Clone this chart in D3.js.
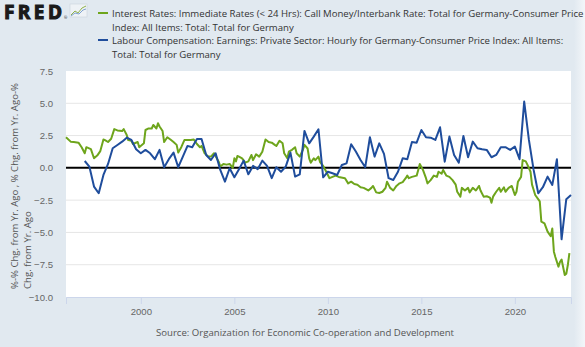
<!DOCTYPE html>
<html>
<head>
<meta charset="utf-8">
<script src="https://cdn.jsdelivr.net/npm/d3@7"></script>
<style>
  body { margin: 0; background: #e1e9f0; }
  svg { display: block; font-family: "Open Sans", sans-serif; }
</style>
</head>
<body>
<div id="chart"></div>
<script>
// series names for the legend
var legendLines = [
    ['Interest Rates: Immediate Rates (< 24 Hrs): Call Money/Interbank Rate: Total for Germany-Consumer Price',
     'Index: All Items: Total: Total for Germany'],
    ['Labour Compensation: Earnings: Private Sector: Hourly for Germany-Consumer Price Index: All Items:',
     'Total: Total for Germany']
];
var seriesColors = ['#6ea51c', '#1f4d9c'];

var yTicks = [-10, -7.5, -5, -2.5, 0, 2.5, 5, 7.5];
var xTickYears = [2000, 2005, 2010, 2015, 2020];

// monthly series
var greenMonths = ['1996-01','1996-04','1996-06','1996-09','1996-11','1997-01','1997-02','1997-05','1997-07','1997-09','1997-11',
    '1998-01','1998-02','1998-04','1998-06','1998-08','1998-10','1999-01','1999-02','1999-04','1999-05','1999-07','1999-08','1999-11','1999-12',
    '2000-03','2000-04','2000-06','2000-08','2000-09','2000-11','2000-12','2001-01','2001-03','2001-04','2001-06','2001-08','2001-10','2001-12',
    '2002-01','2002-03','2002-05','2002-07','2002-09','2002-11','2003-01','2003-03','2003-04','2003-06','2003-08','2003-10','2003-12',
    '2004-03','2004-04','2004-06','2004-08','2004-10','2004-12','2005-01','2005-02','2005-03','2005-04','2005-06','2005-08','2005-10','2005-12',
    '2006-01','2006-03','2006-05','2006-07','2006-09','2006-11','2007-01','2007-03','2007-04','2007-06','2007-08','2007-09','2007-11','2007-12',
    '2008-02','2008-04','2008-05','2008-07','2008-09','2008-10','2008-12','2009-01','2009-02','2009-04','2009-05','2009-07','2009-08','2009-10','2009-12',
    '2010-02','2010-04','2010-06','2010-08','2010-12','2011-02','2011-04','2011-06','2011-08','2011-10','2011-12',
    '2012-03','2012-05','2012-06','2012-08','2012-10','2012-12','2013-02','2013-03','2013-05','2013-07','2013-09','2013-11',
    '2014-01','2014-03','2014-04','2014-05','2014-07','2014-10','2014-11','2014-12','2015-02','2015-04','2015-05','2015-07','2015-09','2015-11','2015-12',
    '2016-02','2016-03','2016-05','2016-07','2016-09','2016-11','2016-12','2017-02','2017-03','2017-05','2017-07','2017-08','2017-10','2017-12',
    '2018-02','2018-03','2018-05','2018-07','2018-09','2018-10','2018-11','2019-01','2019-03','2019-04','2019-06','2019-07','2019-09','2019-11',
    '2020-01','2020-02','2020-03','2020-05','2020-06','2020-08','2020-09','2020-11','2020-12','2021-01','2021-02','2021-05','2021-06','2021-08','2021-10','2021-12',
    '2022-01','2022-02','2022-03','2022-05','2022-06','2022-07','2022-09','2022-10','2022-11','2022-12'];
var greenValues = [2.37,2.03,2.0,1.95,1.6,1.13,1.6,1.45,0.74,0.95,1.3,
    2.2,2.15,2.0,2.25,3.0,2.9,2.85,3.0,2.55,2.15,2.1,1.85,2.0,1.6,
    1.9,2.93,3.05,3.05,3.32,3.05,3.45,3.2,2.85,2.0,2.37,2.2,2.0,1.78,
    1.18,1.6,2.15,2.15,2.15,2.2,1.85,1.6,1.7,1.13,0.9,0.87,1.13,
    0.48,0.1,0.3,0.25,0.3,0.0,0.74,0.5,0.92,0.87,0.74,0.4,0.5,1.0,
    0.6,1.05,0.87,1.25,2.2,2.0,1.95,1.78,1.7,2.1,1.9,1.13,0.74,1.25,
    1.4,1.6,1.13,0.87,1.4,1.78,1.5,0.74,0.4,0.74,0.6,0.87,0.45,0.15,-0.3,
    -0.8,-0.7,-0.6,-0.7,-0.8,-1.2,-1.07,-1.25,-1.3,-1.5,-1.55,
    -1.75,-1.55,-1.4,-1.9,-1.95,-1.85,-1.55,-1.07,-1.55,-1.75,-1.4,-1.2,
    -1.1,-0.8,-0.6,-0.8,-0.7,-0.6,-0.16,0.3,-0.16,-0.8,-1.2,-0.95,-0.6,-0.7,-0.3,
    -0.45,-0.16,-0.6,-0.7,-0.95,-1.3,-1.85,-2.23,-1.55,-1.75,-1.55,-1.9,-1.55,-1.75,
    -1.4,-1.75,-2.23,-2.2,-2.3,-2.7,-2.23,-1.85,-1.55,-1.85,-1.5,-1.85,-1.55,-1.4,
    -2.1,-1.85,-1.07,-0.7,0.6,0.5,0.25,-0.3,-1.3,-1.7,-2.1,-2.6,-4.17,-4.3,-4.94,-5.3,
    -4.7,-6.49,-6.9,-7.65,-7.27,-7.1,-8.3,-8.2,-7.5,-6.6];

// quarterly series, first quarter 1997 Q1 through 2023 Q1
var blueStart = '1997-01';
var blueValues = [0.53,0.1,-1.45,-1.97, -0.55,0.3,1.52,1.77, 2.03,2.34,2.16,1.44, 1.13,1.39,1.13,0.67,
    1.39,0.05,0.67,1.18, 0.05,0.87,1.7,1.6, 2.24,2.24,1.0,0.61, 1.13,-0.16,-1.07,-0.03,
    -0.73,-0.1,0.56,-0.5, 0.15,-0.1,0.56,0.15, -0.8,0.05,-0.3,0.1, 1.18,-0.68,-0.5,2.86,
    1.9,2.42,2.99,-0.73, -0.3,-0.42,-0.55,0.22, 0.35,1.83,1.26,0.61, 0.05,2.37,0.87,1.9,
    1.08,-0.8,-0.94,-0.3, 0.74,0.67,2.0,1.95, 2.93,2.37,2.34,2.16, 3.14,0.48,2.42,1.0,
    0.4,2.47,0.82,2.03, 1.52,1.44,1.39,0.82, 1.0,1.6,1.6,1.39, 1.64,0.67,5.13,2.16,
    -0.16,-1.97,-1.5,-0.68, -1.32,0.67,-5.53,-2.43, -2.1];

var W = 585, H = 347;
var margin = { top: 71, right: 14, bottom: 50, left: 66 };
var plotW = W - margin.left - margin.right,
    plotH = H - margin.top - margin.bottom;
var fontSize = '9.6px';

var parseMonth = d3.timeParse('%Y-%m');

var greenData = greenMonths.map(function (m, i) {
    return { date: parseMonth(m), value: greenValues[i] };
});
var blueData = blueValues.map(function (v, i) {
    return { date: d3.timeMonth.offset(parseMonth(blueStart), i * 3), value: v };
});

var svg = d3.select('#chart').append('svg')
    .attr('width', W)
    .attr('height', H);

svg.append('rect').attr('width', W).attr('height', H).attr('fill', '#e1e9f0');

// lighter strip at the right edge
var grad = svg.append('defs').append('linearGradient').attr('id', 'edge');
grad.append('stop').attr('offset', '0%').attr('stop-color', '#e1e9f0');
grad.append('stop').attr('offset', '100%').attr('stop-color', '#f3f6f9');
svg.append('rect').attr('x', 574).attr('y', 0).attr('width', 11).attr('height', H).attr('fill', 'url(#edge)');

var x = d3.scaleTime()
    .domain([new Date(1996, 0, 1), new Date(2023, 0, 1)])
    .range([0, plotW]);
var y = d3.scaleLinear()
    .domain([-10, 7.5])
    .range([plotH, 0]);

var g = svg.append('g').attr('transform', 'translate(' + margin.left + ',' + margin.top + ')');

g.append('rect').attr('width', plotW).attr('height', plotH).attr('fill', '#ffffff');

// grid lines
g.selectAll('.grid').data(yTicks.filter(function (d) { return d !== 0 && d !== -10 && d !== 7.5; }))
    .enter().append('line')
    .attr('class', 'grid')
    .attr('x1', 0).attr('x2', plotW)
    .attr('y1', function (d) { return y(d); })
    .attr('y2', function (d) { return y(d); })
    .attr('stroke', '#e6e6e6')
    .attr('stroke-width', 1);

// y axis labels
var yAxis = d3.axisLeft(y)
    .tickValues(yTicks)
    .tickSize(0)
    .tickPadding(13)
    .tickFormat(d3.format('.1f'));
g.append('g').attr('class', 'y axis').call(yAxis)
    .call(function (s) { s.select('.domain').remove(); })
    .selectAll('text')
    .attr('fill', '#666')
    .style('font-size', fontSize);

// x axis
var xAxis = d3.axisBottom(x)
    .tickValues(xTickYears.map(function (yr) { return new Date(yr, 0, 1); }))
    .tickSize(7)
    .tickPadding(4)
    .tickFormat(d3.timeFormat('%Y'));
var xg = g.append('g').attr('class', 'x axis')
    .attr('transform', 'translate(0,' + plotH + ')')
    .call(xAxis);
xg.select('.domain').attr('stroke', '#ccd6eb');
xg.selectAll('line').attr('stroke', '#ccd6eb');
xg.selectAll('text').attr('fill', '#666').style('font-size', fontSize);

// zero line
g.append('line')
    .attr('x1', 0).attr('x2', plotW)
    .attr('y1', y(0)).attr('y2', y(0))
    .attr('stroke', '#000')
    .attr('stroke-width', 2);

var line = d3.line()
    .x(function (d) { return x(d.date); })
    .y(function (d) { return y(d.value); });

g.append('path').datum(greenData)
    .attr('d', line)
    .attr('fill', 'none')
    .attr('stroke', seriesColors[0])
    .attr('stroke-width', 2)
    .attr('stroke-linejoin', 'round');

g.append('path').datum(blueData)
    .attr('d', line)
    .attr('fill', 'none')
    .attr('stroke', seriesColors[1])
    .attr('stroke-width', 2)
    .attr('stroke-linejoin', 'round');

// y axis title
var yTitle = svg.append('text')
    .attr('transform', 'translate(18,289) rotate(-90)')
    .attr('fill', '#555')
    .style('font-size', fontSize);
yTitle.append('tspan').attr('x', 0).attr('dy', 0).text('%-% Chg. from Yr. Ago , % Chg. from Yr. Ago-%');
yTitle.append('tspan').attr('x', 0).attr('dy', 13).text('Chg. from Yr. Ago');

// source
svg.append('text')
    .attr('x', 305).attr('y', 336)
    .attr('text-anchor', 'middle')
    .attr('fill', '#555')
    .style('font-size', fontSize)
    .text('Source: Organization for Economic Co-operation and Development');

// FRED logo
svg.append('text')
    .attr('x', 4).attr('y', 19)
    .style('font-family', '"Open Sans", sans-serif')
    .style('font-weight', 700)
    .style('font-size', '19px')
    .attr('textLength', 58)
    .attr('fill', '#1a1a1a')
    .attr('stroke', '#1a1a1a')
    .attr('stroke-width', 1.1)
    .text('FRED');
svg.append('text')
    .attr('x', 64).attr('y', 19)
    .style('font-size', '4px')
    .attr('fill', '#222')
    .text('®');
var icon = svg.append('g').attr('transform', 'translate(70,4)');
icon.append('rect').attr('width', 17).attr('height', 13).attr('fill', '#eef2f6').attr('stroke', '#c9d3de').attr('stroke-width', 0.6);
icon.append('path').attr('d', 'M1,11 L5,7 L8,9 L12,4 L16,2').attr('fill', 'none').attr('stroke', '#8fb24a').attr('stroke-width', 1);
icon.append('path').attr('d', 'M1,12 L5,9 L9,10 L13,6 L16,5').attr('fill', 'none').attr('stroke', '#7fa2cf').attr('stroke-width', 1);

// legend
var legend = svg.append('g').attr('class', 'legend');
legendLines.forEach(function (lines, i) {
    var top = 13 + i * 27;
    legend.append('line')
        .attr('x1', 98).attr('x2', 108)
        .attr('y1', top).attr('y2', top)
        .attr('stroke', seriesColors[i])
        .attr('stroke-width', 2);
    lines.forEach(function (t, j) {
        legend.append('text')
            .attr('x', 112)
            .attr('y', top + 4 + j * 13.5)
            .attr('fill', '#333')
            .style('font-size', fontSize)
            .text(t);
    });
});
</script>
</body>
</html>
